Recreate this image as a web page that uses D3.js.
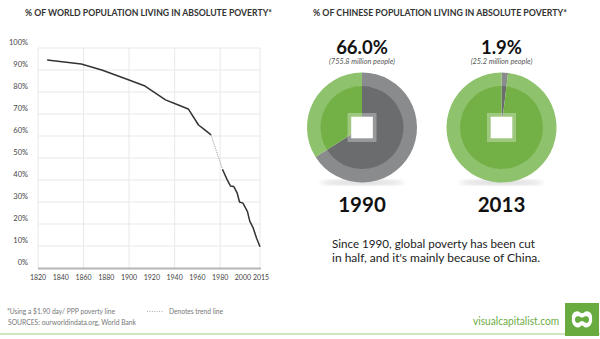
<!DOCTYPE html>
<html><head><meta charset="utf-8">
<script src="https://cdn.jsdelivr.net/npm/d3@7"></script>
<style>
html,body{margin:0;padding:0;background:#fff;}
svg{display:block;font-family:Lato,"Open Sans",sans-serif;}
</style></head>
<body>
<svg id="c" width="600" height="339"></svg>
<script>
// ---- data ----
const solidYearsA = [1828,1858,1876,1897,1914,1932,1940,1952,1961,1966,1972];
const solidValuesA = [94.5,92.7,90.0,86.0,82.7,76.4,74.8,72.3,65.0,63.0,60.5];
const trendYears = [1972,1982];
const trendValues = [60.5,44.9];
const solidYearsB = [1982,1986,1989,1992,1995,1997,2000,2004,2006,2009,2012,2015];
const solidValuesB = [44.9,40.3,37.3,37.0,34.0,30.0,29.5,25.6,21.3,18.2,13.5,9.7];
const yTicks = [0,10,20,30,40,50,60,70,80,90,100];
const xTicks = [1820,1840,1860,1880,1900,1920,1940,1960,1980,2000,2015];
const xGrid = [1820,1860,1900,1940,1980,2015];

const chinaYears = ["1990","2013"];
const chinaPoverty = [66.0,1.9];
const chinaPeople = ["(755.8 million people)","(25.2 million people)"];

const svg = d3.select("#c");

// ---- left chart ----
const x = d3.scaleLinear().domain([1820,2015]).range([38,260]);
const y = d3.scaleLinear().domain([0,100]).range([268,48]);

svg.append("text").attr("x",25).attr("y",15.5)
  .attr("textLength",247).attr("lengthAdjust","spacingAndGlyphs")
  .attr("font-size",9).attr("font-weight",700).attr("fill","#333")
  .text("% OF WORLD POPULATION LIVING IN ABSOLUTE POVERTY*");

const g = svg.append("g");
g.selectAll("line.h").data(yTicks.filter(d=>d>0)).join("line")
  .attr("x1",38).attr("x2",260).attr("y1",d=>y(d)).attr("y2",d=>y(d))
  .attr("stroke","#e8e8e8").attr("stroke-width",1);
g.selectAll("line.v").data(xGrid).join("line")
  .attr("x1",d=>x(d)).attr("x2",d=>x(d)).attr("y1",y(100)).attr("y2",y(0))
  .attr("stroke","#e8e8e8").attr("stroke-width",1);
g.append("line").attr("x1",38).attr("x2",261).attr("y1",y(0)+0.5).attr("y2",y(0)+0.5)
  .attr("stroke","#b5b5b5").attr("stroke-width",2);

g.selectAll("text.yl").data(yTicks).join("text")
  .attr("x",28).attr("y",d=>y(d)-3.5).attr("text-anchor","end")
  .attr("font-size",7.5).attr("fill","#444").text(d=>d+"%");
g.selectAll("text.xl").data(xTicks).join("text")
  .attr("x",d=>x(d)+(d===2015?1:0)).attr("y",279.5).attr("text-anchor","middle")
  .attr("font-size",7).attr("fill","#444").text(d=>d);

const line = d3.line().x(d=>x(d[0])).y(d=>y(d[1]));
g.append("path").datum(d3.zip(solidYearsA,solidValuesA)).attr("d",line)
  .attr("fill","none").attr("stroke","#333").attr("stroke-width",1.5).attr("stroke-linejoin","round");
g.append("path").datum(d3.zip(trendYears,trendValues)).attr("d",line)
  .attr("fill","none").attr("stroke","#999").attr("stroke-width",1).attr("stroke-dasharray","1,1");
g.append("path").datum(d3.zip(solidYearsB,solidValuesB)).attr("d",line)
  .attr("fill","none").attr("stroke","#333").attr("stroke-width",1.5).attr("stroke-linejoin","round");

// ---- right: pies ----
svg.append("text").attr("x",313).attr("y",15.5)
  .attr("textLength",254).attr("lengthAdjust","spacingAndGlyphs")
  .attr("font-size",9).attr("font-weight",700).attr("fill","#333")
  .text("% OF CHINESE POPULATION LIVING IN ABSOLUTE POVERTY*");

const defs = svg.append("defs");
defs.append("filter").attr("id","blur").append("feGaussianBlur").attr("stdDeviation",2);

const centers = [362,501.5];
const cy = 127.5;
const pie = d3.pie().sort(null).value(d=>d);
const outerArc = d3.arc().innerRadius(41).outerRadius(55);
const innerArc = d3.arc().innerRadius(0).outerRadius(41.5);
const outerCol = ["#8a8b8d","#8fc26c"];
const innerCol = ["#6b6c6e","#73b046"];

chinaPoverty.forEach((v,i)=>{
  const cx = centers[i];
  svg.append("ellipse").attr("cx",cx).attr("cy",cy+55).attr("rx",42).attr("ry",2.5)
    .attr("fill","#d8d8d8").attr("filter","url(#blur)");
  const pg = svg.append("g").attr("transform",`translate(${cx},${cy})`);
  const arcs = pie([v,100-v]);
  pg.selectAll("path.o").data(arcs).join("path").attr("d",outerArc).attr("fill",(d,j)=>outerCol[j]);
  pg.selectAll("path.i").data(arcs).join("path").attr("d",innerArc).attr("fill",(d,j)=>innerCol[j]);
  pg.append("rect").attr("x",-14.5).attr("y",-14.5).attr("width",29).attr("height",29)
    .attr("fill","#fff").attr("opacity",0.3);
  pg.append("rect").attr("x",-10.8).attr("y",-10.8).attr("width",21.6).attr("height",21.6)
    .attr("fill","#fff");

  svg.append("text").attr("x",cx).attr("y",53.5).attr("text-anchor","middle")
    .attr("font-size",18.5).attr("font-weight",700).attr("fill","#111")
    .text(v.toFixed(1)+"%");
  svg.append("text").attr("x",cx).attr("y",63.5).attr("text-anchor","middle")
    .attr("font-size",7.3).attr("font-style","italic").attr("fill","#555")
    .text(chinaPeople[i]);
  svg.append("text").attr("x",cx).attr("y",211.5).attr("text-anchor","middle")
    .attr("font-size",20.5).attr("font-weight",700).attr("fill","#111")
    .text(chinaYears[i]);
});

svg.append("text").attr("x",332).attr("y",247.5).attr("font-size",12).attr("fill","#222")
  .attr("textLength",203).attr("lengthAdjust","spacingAndGlyphs")
  .text("Since 1990, global poverty has been cut");
svg.append("text").attr("x",332).attr("y",261.5).attr("font-size",12).attr("fill","#222")
  .text("in half, and it's mainly because of China.");

// ---- footer ----
svg.append("text").attr("x",7).attr("y",314).attr("font-size",6.8).attr("fill","#777")
  .attr("textLength",108).attr("lengthAdjust","spacingAndGlyphs")
  .text("*Using a $1.90 day/ PPP poverty line");
svg.append("text").attr("x",8).attr("y",325).attr("font-size",6.8).attr("fill","#777")
  .attr("textLength",128).attr("lengthAdjust","spacingAndGlyphs")
  .text("SOURCES: ourworldindata.org, World Bank");
svg.append("line").attr("x1",147).attr("x2",163).attr("y1",311.5).attr("y2",311.5)
  .attr("stroke","#999").attr("stroke-width",0.8).attr("stroke-dasharray","1,1.4");
svg.append("text").attr("x",169).attr("y",314).attr("font-size",6.8).attr("fill","#777")
  .attr("textLength",54).attr("lengthAdjust","spacingAndGlyphs")
  .text("Denotes trend line");

svg.append("line").attr("x1",0).attr("x2",600).attr("y1",334).attr("y2",334)
  .attr("stroke","#9fcd80").attr("stroke-width",1.2);
svg.append("text").attr("x",559).attr("y",325).attr("text-anchor","end")
  .attr("font-size",11).attr("fill","#6aab3f")
  .attr("textLength",86).attr("lengthAdjust","spacingAndGlyphs")
  .text("visualcapitalist.com");
svg.append("rect").attr("x",565).attr("y",303).attr("width",34).attr("height",33).attr("fill","#6aab3f");
const lg = svg.append("g").attr("transform","translate(582,319.5)");
lg.append("path")
  .attr("d","M-10,-1 C-11,-7 -5,-10 -2,-7 C-1,-6 1,-6 2,-7 C5,-10 11,-7 10,-1 C11,3 8,8 4,8 C2,8 1,6 0,6 C-1,6 -2,8 -4,8 C-8,8 -11,3 -10,-1 Z")
  .attr("fill","#fff");
lg.append("path")
  .attr("d","M-7,0 C-7,-4 -3,-4 -1,-2 L1,-2 C3,-4 7,-4 7,0 C7,3 5,4 3,3 C1,1 -1,1 -3,3 C-5,4 -7,3 -7,0 Z")
  .attr("fill","#6aab3f");
</script>
</body></html>
